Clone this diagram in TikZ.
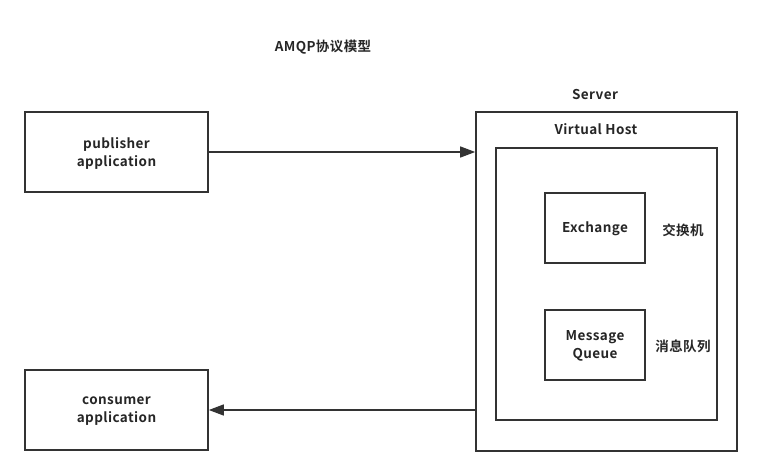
\documentclass[tikz,border=0pt]{standalone}
\usepackage{fontspec}
\setmainfont{Noto Sans CJK SC}[BoldFont={Noto Sans CJK SC Bold},LetterSpace=3]
\usetikzlibrary{arrows.meta}
\begin{document}
\begin{tikzpicture}[x=1pt,y=-1pt,
  box/.style={draw=black!80,line width=1.6pt,inner sep=0pt},
  lbl/.style={font=\fontsize{13.5}{18}\selectfont\bfseries,text=black!85,align=center},
  conn/.style={draw=black!80,line width=1.4pt,-{Triangle[length=15pt,width=11pt]}}]
\useasboundingbox (0,0) rectangle (768,476);
\node[lbl] (title) at (323,47) {AMQP协议模型};
\node[box,minimum width=183pt,minimum height=80pt] (pub) at (116.5,152) {};
\node[lbl] (publ) at (116.5,153) {publisher\\application};
\node[box,minimum width=183pt,minimum height=80pt] (con) at (116.5,410) {};
\node[lbl] (conl) at (116.5,411) {consumer\\application};
\node[box,minimum width=261pt,minimum height=339pt] (srv) at (606.5,281.5) {};
\node[lbl] (srvl) at (595,95) {Server};
\node[lbl] (vhl) at (596,129) {Virtual Host};
\node[box,minimum width=221pt,minimum height=272pt] (vh) at (606.5,284) {};
\node[box,minimum width=100pt,minimum height=70pt] (ex) at (595,228) {};
\node[lbl] (exl) at (595,229) {Exchange};
\node[lbl] (exc) at (683,230) {交换机};
\node[box,minimum width=100pt,minimum height=70pt] (mq) at (595,345) {};
\node[lbl] (mql) at (595,346) {Message\\Queue};
\node[lbl] (mqc) at (683,346) {消息队列};
\draw[conn] (pub.east) -- (pub.east -| srv.west);
\draw[conn] (con.east -| srv.west) -- (con.east);
\end{tikzpicture}
\end{document}
